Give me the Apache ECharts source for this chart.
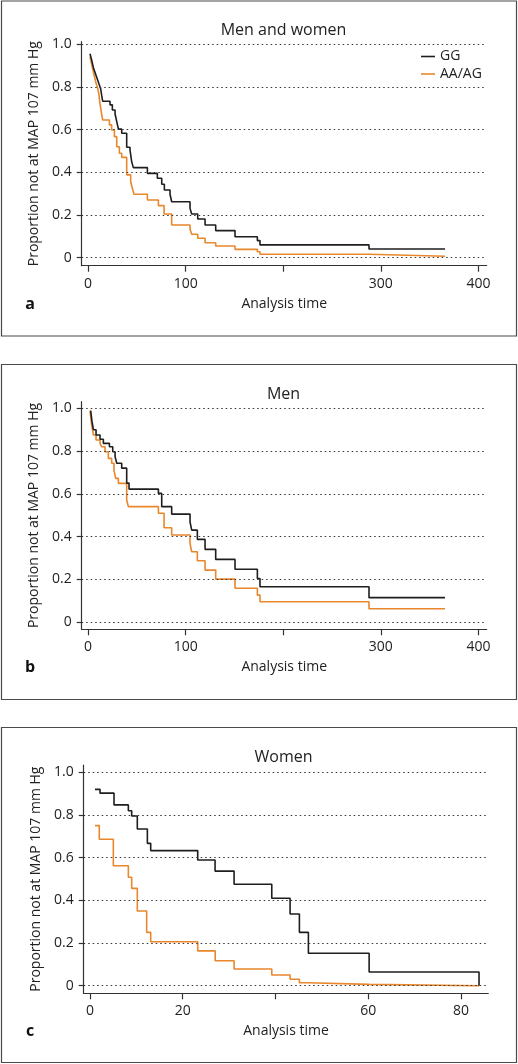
<!DOCTYPE html>
<html>
<head>
<meta charset="utf-8">
<style>html,body{margin:0;padding:0;background:#fff;}#c{width:518px;height:1064px;}</style>
<script src="https://cdn.jsdelivr.net/npm/echarts@6.0.0/dist/echarts.min.js"></script>
</head>
<body>
<div id="c"></div>
<script>
// ---- Data ----
const panelTitles = ['Men and women', 'Men', 'Women'];
const panelLetters = ['a', 'b', 'c'];
const seriesNames = ['GG', 'AA/AG'];
const yTicks = [0, 0.2, 0.4, 0.6, 0.8, 1.0];
const xTicksAB = [0, 100, 200, 300, 400];
const xLabelsAB = [0, 100, 300, 400];
const xTicksC = [0, 20, 40, 60, 80];
const xLabelsC = [0, 20, 60, 80];

// Panel a: men and women
const aGG_t = [2.0, 3.5, 4.5, 5.5, 7, 8.5, 10, 11.5, 13, 14, 15, 22.5, 24.9, 27.7, 29.4, 31.1, 34.5, 39.6, 43.0, 44.7, 46.4, 60.8, 71.0, 75.5, 78.2, 84.0, 85.7, 104.5, 106.2, 112.4, 119.9, 130.8, 150.6, 173.5, 176.2, 287.9, 365.8];
const aGG_s = [0.955, 0.93, 0.91, 0.89, 0.87, 0.85, 0.83, 0.81, 0.79, 0.76, 0.733, 0.716, 0.692, 0.673, 0.637, 0.602, 0.583, 0.517, 0.505, 0.45, 0.422, 0.395, 0.372, 0.344, 0.317, 0.297, 0.262, 0.231, 0.205, 0.181, 0.153, 0.127, 0.098, 0.08, 0.06, 0.041, 0.041];
const aAA_t = [2.0, 3.5, 5, 6.5, 8, 9.5, 11, 12, 13, 14, 15, 21.9, 24.2, 27.0, 29.4, 32.1, 34.5, 39.6, 43.7, 45.4, 47.1, 60.8, 72.1, 77.9, 85.7, 104.5, 106.2, 112.4, 119.9, 130.8, 150.6, 173.5, 176.2, 287.9, 365.8];
const aAA_s = [0.942, 0.91, 0.88, 0.85, 0.82, 0.80, 0.77, 0.73, 0.70, 0.67, 0.645, 0.622, 0.598, 0.567, 0.52, 0.489, 0.47, 0.388, 0.356, 0.325, 0.297, 0.27, 0.244, 0.205, 0.153, 0.133, 0.11, 0.091, 0.07, 0.055, 0.039, 0.028, 0.016, 0.007, 0.007];

// Panel b: men
const bGG_t = [2.7, 4, 5.5, 8.2, 12.3, 15.7, 21.9, 25.3, 27.7, 29.4, 34.5, 39.6, 42.0, 72.1, 75.5, 85.7, 104.5, 106.2, 112.0, 119.9, 130.8, 150.6, 173.5, 176.2, 287.9, 365.8];
const bGG_s = [0.989, 0.94, 0.90, 0.875, 0.855, 0.836, 0.82, 0.797, 0.774, 0.743, 0.72, 0.65, 0.622, 0.602, 0.54, 0.505, 0.469, 0.43, 0.387, 0.34, 0.293, 0.247, 0.204, 0.165, 0.114, 0.114];
const bAA_t = [2.0, 3.5, 5.5, 8.2, 12.3, 14.0, 17.4, 20.8, 24.2, 26.6, 28.3, 31.1, 39.6, 41.3, 72.1, 77.9, 85.7, 104.5, 106.2, 112.0, 119.9, 130.8, 150.6, 173.5, 176.2, 287.9, 365.8];
const bAA_s = [0.989, 0.93, 0.875, 0.852, 0.836, 0.82, 0.797, 0.766, 0.743, 0.711, 0.672, 0.649, 0.571, 0.54, 0.509, 0.441, 0.407, 0.368, 0.329, 0.287, 0.243, 0.201, 0.158, 0.126, 0.095, 0.062, 0.062];

// Panel c: women
const cGG_t = [1.08, 2.16, 5.18, 8.27, 8.99, 10.2, 12.37, 13.09, 23.23, 26.97, 31.07, 39.2, 43.15, 45.16, 47.1, 60.2, 83.9, 83.9];
const cGG_s = [0.92, 0.902, 0.847, 0.82, 0.795, 0.734, 0.667, 0.633, 0.589, 0.537, 0.475, 0.41, 0.336, 0.25, 0.152, 0.064, 0.064, 0];
const cAA_t = [1.08, 2.0, 5.03, 8.27, 8.99, 10.2, 12.22, 13.09, 23.23, 27.0, 31.07, 39.2, 43.15, 45.16, 47.1, 60.2, 83.9];
const cAA_s = [0.75, 0.686, 0.562, 0.508, 0.456, 0.35, 0.25, 0.206, 0.163, 0.117, 0.078, 0.05, 0.03, 0.014, 0.006, 0, 0];

const colorGG = '#1e1e1e';
const colorAA = '#e8872c';
const FONT = 'Open Sans';
const textColor = '#222';

function zip(t, s) { return t.map((v, i) => [v, s[i]]); }

const panels = [
  { top: 41.7, bottom: 1064 - 265.7, left: 81.7, right: 518 - 486.7, xmin: -6.5, xmax: 408.5, ymin: -0.0375, ymax: 1.0117,
    xt: xTicksAB, xl: xLabelsAB, gg: zip(aGG_t, aGG_s), aa: zip(aAA_t, aAA_s), titleY: 30, letterY: 304 },
  { top: 401.7, bottom: 1064 - 629.3, left: 81.7, right: 518 - 486.7, xmin: -6.5, xmax: 408.5, ymin: -0.034, ymax: 1.031,
    xt: xTicksAB, xl: xLabelsAB, gg: zip(bGG_t, bGG_s), aa: zip(bAA_t, bAA_s), titleY: 394, letterY: 667 },
  { top: 765, bottom: 1064 - 993.3, left: 83.7, right: 518 - 488.3, xmin: -1.36, xmax: 85.9, ymin: -0.0356, ymax: 1.034,
    xt: xTicksC, xl: xLabelsC, gg: zip(cGG_t, cGG_s), aa: zip(cAA_t, cAA_s), titleY: 757.7, letterY: 1031.7 }
];

const grid = [], xAxis = [], yAxis = [], series = [], graphic = [];
const boxes = [[1, 0.5, 516, 335], [1, 364, 516, 335], [1, 727, 516, 335]];
boxes.forEach(b => graphic.push({ type: 'rect', shape: { x: b[0] + 0.5, y: b[1] + 0.5, width: b[2] - b[0], height: b[3] }, style: { fill: 'none', stroke: '#4a4a4a', lineWidth: 1.2 }, silent: true }));

panels.forEach((p, i) => {
  grid.push({ left: p.left, right: p.right, top: p.top, bottom: p.bottom, containLabel: false });
  xAxis.push({
    type: 'value', gridIndex: i, min: p.xmin, max: p.xmax,
    name: 'Analysis time', nameLocation: 'middle', nameGap: 31,
    nameTextStyle: { fontFamily: FONT, fontSize: 14, color: textColor },
    axisLine: { onZero: false, lineStyle: { color: '#333', width: 1.2 } },
    axisTick: { show: true, length: 6, customValues: p.xt, lineStyle: { color: '#333', width: 1.2 } },
    axisLabel: { customValues: p.xl, margin: 11, fontFamily: FONT, fontSize: 14, color: textColor },
    splitLine: { show: false }
  });
  yAxis.push({
    type: 'value', gridIndex: i, min: p.ymin, max: p.ymax,
    name: 'Proportion not at MAP 107 mm Hg', nameLocation: 'middle', nameGap: 41, nameRotate: 90,
    nameTextStyle: { fontFamily: FONT, fontSize: 14, color: textColor },
    axisLine: { show: true, onZero: false, lineStyle: { color: '#333', width: 1.2 } },
    axisTick: { show: true, length: 5, customValues: yTicks, lineStyle: { color: '#333', width: 1.2 } },
    axisLabel: { customValues: yTicks, margin: 10, fontFamily: FONT, fontSize: 14, color: textColor,
      formatter: v => (Math.abs(v) < 1e-9 ? '0' : v.toFixed(1)) },
    splitLine: { show: false }
  });
  series.push({
    name: seriesNames[0], type: 'line', xAxisIndex: i, yAxisIndex: i, step: 'end', symbol: 'none',
    data: p.gg, lineStyle: { color: colorGG, width: 1.6 }, itemStyle: { color: colorGG }, z: 3,
    markLine: { silent: true, symbol: 'none', label: { show: false },
      lineStyle: { color: '#333', type: [1.5, 3], width: 1.2 },
      data: yTicks.map(v => ({ yAxis: v })) }
  });
  series.push({
    name: seriesNames[1], type: 'line', xAxisIndex: i, yAxisIndex: i, step: 'end', symbol: 'none',
    data: p.aa, lineStyle: { color: colorAA, width: 1.6 }, itemStyle: { color: colorAA }, z: 2
  });
  graphic.push({ type: 'text', x: 283.5, y: p.titleY, style: { text: panelTitles[i], fontFamily: FONT, fontSize: 16, fill: textColor, align: 'center', verticalAlign: 'middle' } });
  graphic.push({ type: 'text', x: 30, y: p.letterY, style: { text: panelLetters[i], fontFamily: FONT, fontSize: 16, fontWeight: 'bold', fill: '#111', align: 'center', verticalAlign: 'middle' } });
});

const chart = echarts.init(document.getElementById('c'), null, { renderer: 'canvas' });
chart.setOption({
  animation: false,
  backgroundColor: '#fff',
  grid: grid, xAxis: xAxis, yAxis: yAxis, series: series,
  legend: { data: seriesNames, orient: 'vertical', left: 421, top: 49.5, padding: 0, icon: 'rect', itemWidth: 14, itemHeight: 1.6, itemGap: 3.5,
    textStyle: { fontFamily: FONT, fontSize: 14, color: textColor } },
  graphic: graphic
});
</script>
</body>
</html>
